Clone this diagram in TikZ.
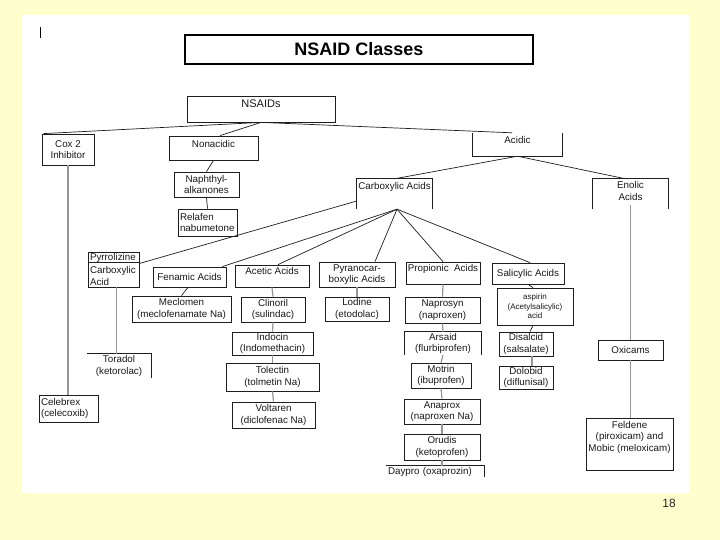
\documentclass[tikz,border=0pt]{standalone}
\usepackage{fontspec}
\setmainfont{Liberation Sans}
\definecolor{bgy}{RGB}{255,255,206}
\definecolor{ln}{RGB}{30,30,30}
\definecolor{gl}{RGB}{150,150,150}
\newcommand\bxf{\fontsize{9.8}{11.5}\selectfont}
\tikzset{
 bx/.style={draw=ln, line width=0.8pt, inner sep=1pt, align=center, font=\bxf, text=black!90},
 ob/.style={inner sep=1pt, align=center, font=\bxf, text=black!90},
 lb/.style={align=left, inner xsep=2pt},
 toplbl/.style={anchor=north, inner sep=0pt, align=center, font=\bxf, text=black!90},
 conn/.style={draw=ln, line width=0.7pt},
 gconn/.style={draw=gl, line width=1.2pt},
 opn/.style={draw=ln, line width=0.8pt},
}
\begin{document}
\begin{tikzpicture}[x=1pt,y=-1pt]
\useasboundingbox (0,0) rectangle (720,540);
\fill[bgy] (0,0) rectangle (720,540);
\fill[white] (22,15) rectangle (690,493);
\draw[line width=1.4pt] (40.5,27) -- (40.5,38);
\node[draw, line width=1.8pt, minimum width=348pt, minimum height=29pt, font=\fontsize{18}{20}\selectfont\bfseries] (title) at (359,49.5) {NSAID Classes};

% level 1
\node[bx, minimum width=148pt, minimum height=26pt, label={[toplbl,yshift=-4pt,font=\fontsize{11}{13}\selectfont]north:NSAIDs}] (nsaids) at (261,109) {};
\node[bx, minimum width=52pt, minimum height=31pt] (cox2) at (68,149.5) {Cox 2\\Inhibitor};
\node[bx, minimum width=89pt, minimum height=24pt, label={[toplbl,yshift=-4.5pt]north:Nonacidic}] (nonacidic) at (213.5,148) {};
\node[ob, minimum width=89pt, minimum height=23pt, label={[toplbl,yshift=-3.5pt]north:Acidic}] (acidic) at (517.5,144.5) {};

% nonacidic branch
\node[bx, minimum width=65pt, minimum height=25pt] (naph) at (206.5,184.5) {Naphthyl-\\alkanones};
\node[bx, lb, text width=55pt, minimum height=27pt] (relafen) at (207.5,222.5) {Relafen\\nabumetone};

% acidic branch
\node[ob, minimum width=75pt, minimum height=30pt, label={[toplbl,yshift=-3pt]north:Carboxylic Acids}] (carb) at (394.5,194) {};
\node[ob, minimum width=75pt, minimum height=30pt, label={[toplbl,yshift=-2.5pt]north:Enolic\\Acids}] (enolic) at (630.5,194) {};

% carboxylic classes
\node[bx, lb, text width=47pt, minimum height=35pt] (pyr) at (113.5,269.5) {Pyrrolizine\\[1.5pt]Carboxylic\\Acid};
\node[bx, minimum width=73pt, minimum height=20pt] (fenamic) at (189.5,277) {Fenamic Acids};
\node[bx, minimum width=74pt, minimum height=22pt, label={[toplbl,yshift=-3pt]north:Acetic Acids}] (acetic) at (272,276) {};
\node[bx, minimum width=76pt, minimum height=25pt] (pyrano) at (357,274.5) {Pyranocar-\\boxylic Acids};
\node[bx, minimum width=74pt, minimum height=22pt, label={[toplbl,yshift=-2.5pt]north:Propionic\ \ Acids}] (propionic) at (443,273) {};
\node[bx, minimum width=72pt, minimum height=21pt] (salicylic) at (528,273.5) {Salicylic Acids};

% drugs
\node[bx, minimum width=99pt, minimum height=26pt] (meclomen) at (181.5,309) {Meclomen\\(meclofenamate Na)};
\node[bx, minimum width=64pt, minimum height=25pt] (clinoril) at (273,309.5) {Clinoril\\(sulindac)};
\node[bx, minimum width=81pt, minimum height=23pt] (indocin) at (272.5,343.5) {Indocin\\(Indomethacin)};
\node[bx, minimum width=93pt, minimum height=28pt] (tolectin) at (272.5,377) {Tolectin\\(tolmetin Na)};
\node[bx, minimum width=83pt, minimum height=26pt] (voltaren) at (273.5,415) {Voltaren\\(diclofenac Na)};
\node[bx, minimum width=64pt, minimum height=24pt] (lodine) at (357,309) {Lodine\\(etodolac)};
\node[bx, minimum width=75pt, minimum height=26pt] (naprosyn) at (442.5,310) {Naprosyn\\(naproxen)};
\node[ob, minimum width=76pt, minimum height=23pt] (arsaid) at (443,343.5) {Arsaid\\(flurbiprofen)};
\node[bx, minimum width=60pt, minimum height=25pt] (motrin) at (441,375.5) {Motrin\\(ibuprofen)};
\node[bx, minimum width=76pt, minimum height=25pt] (anaprox) at (442,411.5) {Anaprox\\(naproxen Na)};
\node[bx, minimum width=76pt, minimum height=26pt] (orudis) at (442,447) {Orudis\\(ketoprofen)};
\node[ob, lb, text width=94pt, minimum height=11pt] (daypro) at (435,471.5) {Daypro (oxaprozin)};
\node[bx, minimum width=76pt, minimum height=37pt, font=\fontsize{8}{9.5}\selectfont] (aspirin) at (535,306.5) {aspirin\\(Acetylsalicylic)\\acid};
\node[bx, minimum width=54pt, minimum height=24pt] (disalcid) at (526,344) {Disalcid\\(salsalate)};
\node[bx, minimum width=54pt, minimum height=23pt] (dolobid) at (526,377.5) {Dolobid\\(diflunisal)};
\node[ob, minimum width=64pt, minimum height=24pt] (toradol) at (119,366) {Toradol\\(ketorolac)};
\node[bx, lb, text width=55pt, minimum height=27pt] (celebrex) at (68.5,408.5) {Celebrex\\(celecoxib)};
\node[bx, minimum width=65pt, minimum height=20pt] (oxicams) at (630.5,350) {Oxicams};
\node[bx, minimum width=87pt, minimum height=52pt, label={[toplbl,yshift=-3.5pt]north:Feldene\\(piroxicam) and\\Mobic (meloxicam)}] (feldene) at (629.5,444) {};

\node[font=\fontsize{12}{14}\selectfont, text=black!85] (pagenum) at (669,503) {18};

% open boxes
\draw[opn] (acidic.north west) -- (acidic.south west) -- (acidic.south east) -- (acidic.north east);
\draw[opn] (carb.south west) -- (carb.north west) -- (carb.north east) -- (carb.south east);
\draw[opn] (enolic.south west) -- (enolic.north west) -- (enolic.north east) -- (enolic.south east);
\draw[opn] (toradol.north west) -- (toradol.north east) -- (toradol.south east);
\draw[opn] (arsaid.south west) -- (arsaid.north west) -- (arsaid.north east) -- (arsaid.south east);
\draw[opn] (daypro.north west) -- (daypro.north east) -- (daypro.south east);
\draw[opn] (pyr.west |- 0,262) -- (pyr.east |- 0,262);

% black connectors
\draw[conn] (nsaids.south) -- ([xshift=2pt]cox2.north west);
\draw[conn] (nsaids.south) -- ([xshift=6.5pt]nonacidic.north);
\draw[conn] (nsaids.south) -- ([xshift=-5.5pt]acidic.north);
\draw[conn] (acidic.south) -- (carb.north);
\draw[conn] (acidic.south) -- ([xshift=-5pt]enolic.north);
\draw[conn] (nonacidic.south) -- (naph.north);
\draw[conn] (naph.south) -- (relafen.north);
\draw[conn] ([yshift=-7pt]carb.west) -- ([yshift=6pt]pyr.east);
\coordinate (conv) at ([xshift=2.5pt]carb.south);
\draw[conn] (conv) -- ([xshift=-4pt]fenamic.north east);
\draw[conn] (conv) -- ([xshift=6pt]acetic.north);
\draw[conn] (conv) -- ([xshift=18pt]pyrano.north);
\draw[conn] (conv) -- (propionic.north);
\draw[conn] (conv) -- ([xshift=2pt]salicylic.north);
\draw[conn] ([xshift=-1.5pt]fenamic.south) -- (meclomen.north);
\draw[conn] (salicylic.south) -- ([xshift=-2pt]aspirin.north);
\draw[conn] ([xshift=-2pt]aspirin.south) -- ([xshift=4pt]disalcid.north);

% grey connectors
\draw[gconn] (cox2.south) -- (cox2.south |- celebrex.north);
\draw[gconn] ([xshift=3pt]pyr.south) coordinate (p1) -- (p1 |- toradol.north);
\draw[gconn] (acetic.south) -- (clinoril.north);
\draw[gconn] (clinoril.south) -- (indocin.north);
\draw[gconn] (indocin.south) -- (tolectin.north);
\draw[gconn] (tolectin.south) -- (voltaren.north);
\draw[gconn] (pyrano.south) -- (lodine.north);
\draw[gconn] (propionic.south) -- (naprosyn.north);
\draw[gconn] (naprosyn.south) -- (arsaid.north);
\draw[gconn] (arsaid.south) -- (motrin.north);
\draw[gconn] (motrin.south) -- (anaprox.north);
\draw[gconn] (anaprox.south) -- (orudis.north);
\draw[gconn] (orudis.south) -- (orudis.south |- daypro.north);
\draw[gconn] ([xshift=6pt]disalcid.south) coordinate (p2) -- (p2 |- dolobid.north);
\draw[gconn] ([yshift=4pt]enolic.south) -- (oxicams.north);
\draw[gconn] (oxicams.south) -- (oxicams.south |- feldene.north);
\end{tikzpicture}
\end{document}
